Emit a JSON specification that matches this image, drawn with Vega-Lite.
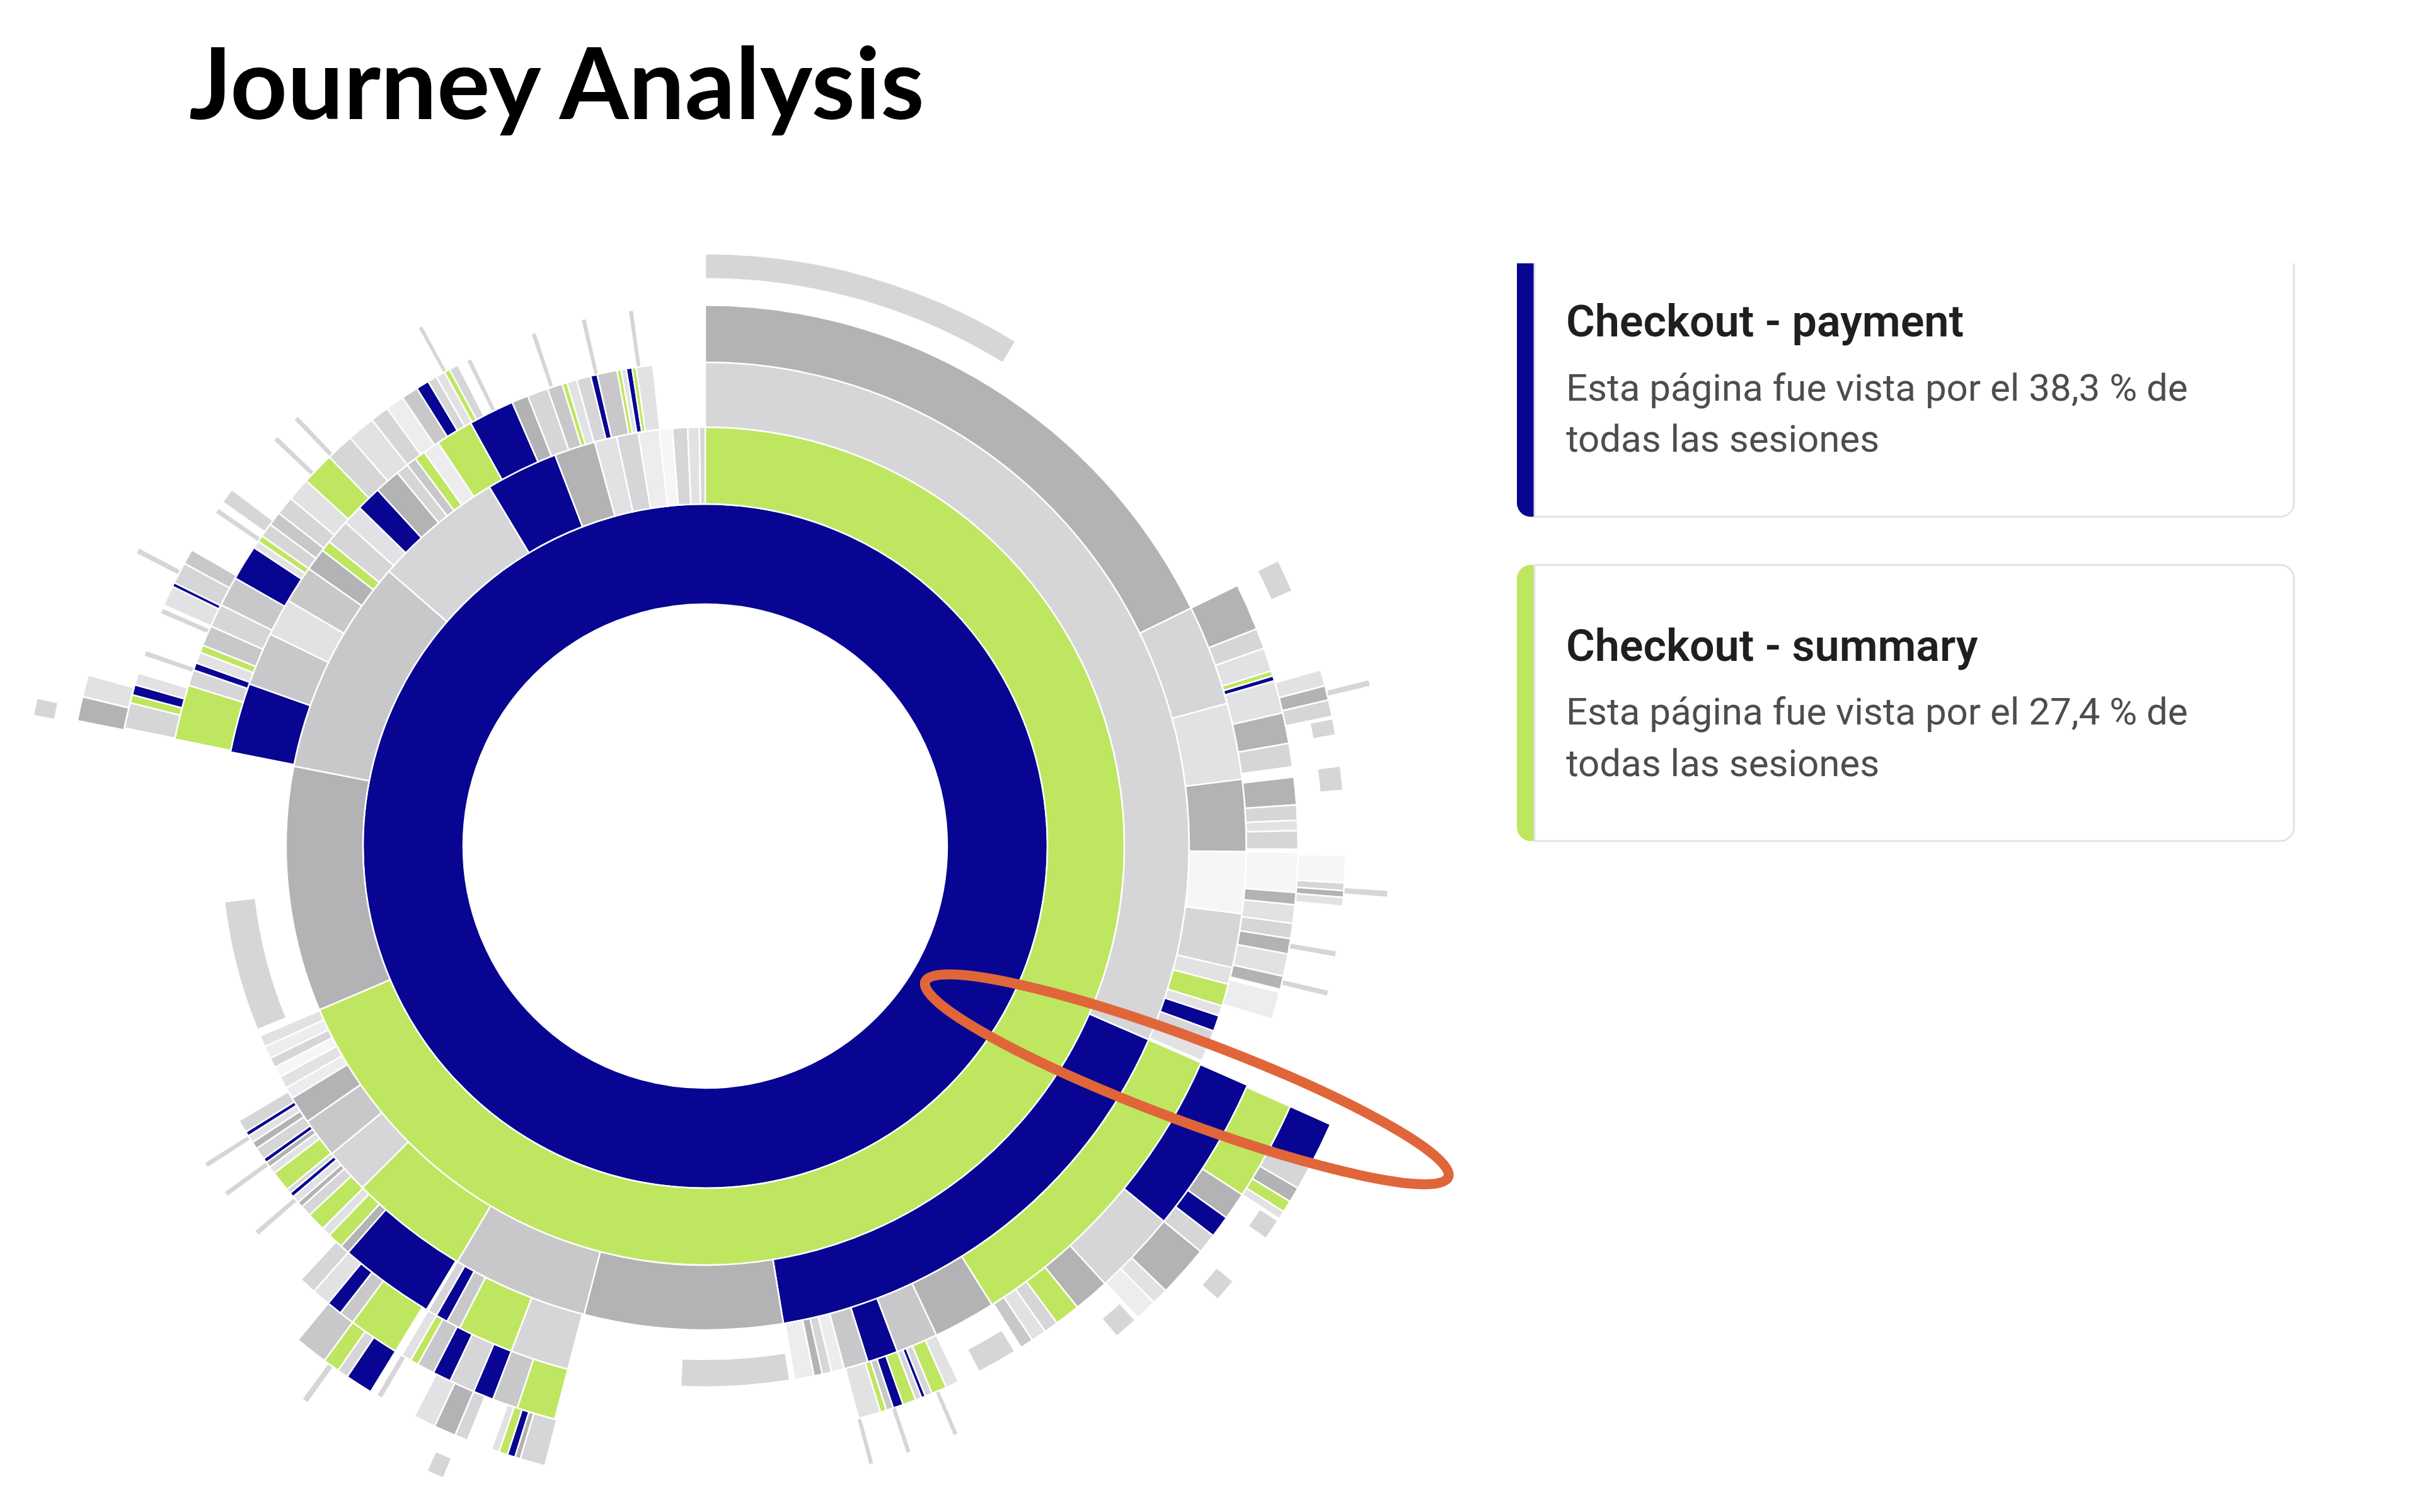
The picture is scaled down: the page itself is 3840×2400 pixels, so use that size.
{
  "$schema": "https://vega.github.io/schema/vega-lite/v6.json",
  "background": "#ffffff",
  "autosize": {"type": "pad"},
  "padding": {"left": 0, "top": 63, "right": 0, "bottom": 0},
  "title": {"text": "Journey Analysis", "anchor": "start", "frame": "group", "font": "Lato", "fontSize": 158, "fontWeight": "bold", "color": "#000000", "dx": 300, "offset": 50, "baseline": "alphabetic"},
  "config": {"view": {"stroke": null}},
  "bounds": "flush",
  "spacing": 169,
  "datasets": {
    "nodos": [
      {"p":"Checkout - payment","a0":0,"a1":360,"y0":1,"y1":2},

      {"p":"Checkout - summary","a0":0,"a1":247,"y0":2,"y1":3},
      {"p":"Otra 1","a0":247,"a1":281,"y0":2,"y1":3},
      {"p":"Otra 2","a0":281,"a1":311,"y0":2,"y1":3},
      {"p":"Otra 3","a0":311,"a1":329,"y0":2,"y1":3},
      {"p":"Checkout - payment","a0":329,"a1":339,"y0":2,"y1":3},
      {"p":"Otra 1","a0":339,"a1":344.7,"y0":2,"y1":3},
      {"p":"Otra 4","a0":344.7,"a1":347.8,"y0":2,"y1":3},
      {"p":"Otra 3","a0":347.8,"a1":350.8,"y0":2,"y1":3},
      {"p":"Otra 5","a0":350.8,"a1":353.7,"y0":2,"y1":3},
      {"p":"Otra 6","a0":353.7,"a1":355.5,"y0":2,"y1":3},
      {"p":"Otra 3","a0":355.5,"a1":357.6,"y0":2,"y1":3},
      {"p":"Otra 4","a0":357.6,"a1":359.2,"y0":2,"y1":3},
      {"p":"Otra 3","a0":359.2,"a1":360,"y0":2,"y1":3},

      {"p":"Otra 3","a0":0,"a1":113.6,"y0":3,"y1":4},
      {"p":"Checkout - payment","a0":113.6,"a1":170.7,"y0":3,"y1":4},
      {"p":"Otra 1","a0":170.7,"a1":194.5,"y0":3,"y1":4},
      {"p":"Otra 2","a0":194.5,"a1":210.8,"y0":3,"y1":4},
      {"p":"Checkout - summary","a0":210.8,"a1":225.1,"y0":3,"y1":4},
      {"p":"Otra 3","a0":225.1,"a1":230.5,"y0":3,"y1":4},
      {"p":"Otra 2","a0":230.5,"a1":235.3,"y0":3,"y1":4},
      {"p":"Otra 1","a0":235.3,"a1":238.6,"y0":3,"y1":4},
      {"p":"Otra 5","a0":238.6,"a1":240,"y0":3,"y1":4},
      {"p":"Otra 4","a0":240,"a1":241.5,"y0":3,"y1":4},
      {"p":"Otra 6","a0":241.5,"a1":242.8,"y0":3,"y1":4},
      {"p":"Otra 3","a0":242.8,"a1":244,"y0":3,"y1":4},
      {"p":"Otra 5","a0":244,"a1":245.5,"y0":3,"y1":4},
      {"p":"Otra 4","a0":245.5,"a1":246.9,"y0":3,"y1":4},
      {"p":"Otra 3","a0":247.7,"a1":263.4,"y0":3.5,"y1":4},
      {"p":"Checkout - payment","a0":281.2,"a1":289.6,"y0":3,"y1":4},
      {"p":"Otra 2","a0":289.6,"a1":296,"y0":3,"y1":4},
      {"p":"Otra 4","a0":296,"a1":300.5,"y0":3,"y1":4},
      {"p":"Otra 2","a0":300.5,"a1":305,"y0":3,"y1":4},
      {"p":"Otra 1","a0":305,"a1":307.7,"y0":3,"y1":4},
      {"p":"Checkout - summary","a0":307.7,"a1":309,"y0":3,"y1":4},
      {"p":"Otra 3","a0":309,"a1":312,"y0":3,"y1":4},
      {"p":"Otra 4","a0":312,"a1":314.4,"y0":3,"y1":4},
      {"p":"Checkout - payment","a0":314.4,"a1":317.4,"y0":3,"y1":4},
      {"p":"Otra 1","a0":317.4,"a1":320.5,"y0":3,"y1":4},
      {"p":"Otra 3","a0":320.5,"a1":322,"y0":3,"y1":4},
      {"p":"Otra 2","a0":322,"a1":323.2,"y0":3,"y1":4},
      {"p":"Checkout - summary","a0":323.2,"a1":324.5,"y0":3,"y1":4},
      {"p":"Otra 5","a0":324.5,"a1":326.5,"y0":3,"y1":4},
      {"p":"Checkout - summary","a0":326.5,"a1":331,"y0":3,"y1":4},
      {"p":"Checkout - payment","a0":331,"a1":336.5,"y0":3,"y1":4},
      {"p":"Otra 1","a0":336.5,"a1":338.5,"y0":3,"y1":4},
      {"p":"Otra 3","a0":338.5,"a1":341,"y0":3,"y1":4},
      {"p":"Otra 2","a0":341,"a1":342.8,"y0":3,"y1":4},
      {"p":"Checkout - summary","a0":342.8,"a1":343.4,"y0":3,"y1":4},
      {"p":"Otra 4","a0":343.4,"a1":344.6,"y0":3,"y1":4},
      {"p":"Otra 3","a0":344.6,"a1":346.3,"y0":3,"y1":4},
      {"p":"Checkout - payment","a0":346.3,"a1":347.1,"y0":3,"y1":4},
      {"p":"Otra 2","a0":347.1,"a1":349.5,"y0":3,"y1":4},
      {"p":"Checkout - summary","a0":349.5,"a1":350,"y0":3,"y1":4},
      {"p":"Otra 4","a0":350,"a1":350.6,"y0":3,"y1":4},
      {"p":"Checkout - payment","a0":350.6,"a1":351.3,"y0":3,"y1":4},
      {"p":"Checkout - summary","a0":351.3,"a1":351.8,"y0":3,"y1":4},
      {"p":"Otra 4","a0":351.8,"a1":353.8,"y0":3,"y1":4},

      {"p":"Otra 1","a0":0,"a1":63.9,"y0":4,"y1":5},
      {"p":"Otra 3","a0":63.9,"a1":74.7,"y0":4,"y1":5},
      {"p":"Otra 4","a0":74.7,"a1":82.9,"y0":4,"y1":5},
      {"p":"Otra 1","a0":82.9,"a1":90.6,"y0":4,"y1":5},
      {"p":"Otra 6","a0":90.6,"a1":97.2,"y0":4,"y1":5},
      {"p":"Otra 3","a0":97.2,"a1":103,"y0":4,"y1":5},
      {"p":"Otra 4","a0":103,"a1":104.8,"y0":4,"y1":5},
      {"p":"Checkout - summary","a0":104.8,"a1":107.2,"y0":4,"y1":5},
      {"p":"Otra 4","a0":107.2,"a1":108.3,"y0":4,"y1":5},
      {"p":"Checkout - payment","a0":108.3,"a1":110,"y0":4,"y1":5},
      {"p":"Otra 3","a0":110,"a1":111.6,"y0":4,"y1":5},
      {"p":"Otra 4","a0":111.6,"a1":113.4,"y0":4,"y1":5},
      {"p":"Checkout - summary","a0":113.6,"a1":148,"y0":4,"y1":5},
      {"p":"Otra 1","a0":148,"a1":154.7,"y0":4,"y1":5},
      {"p":"Otra 2","a0":154.7,"a1":159.2,"y0":4,"y1":5},
      {"p":"Checkout - payment","a0":159.2,"a1":162.5,"y0":4,"y1":5},
      {"p":"Otra 2","a0":162.5,"a1":165.1,"y0":4,"y1":5},
      {"p":"Otra 5","a0":165.1,"a1":166.5,"y0":4,"y1":5},
      {"p":"Otra 3","a0":166.5,"a1":167.5,"y0":4,"y1":5},
      {"p":"Otra 1","a0":167.5,"a1":168.4,"y0":4,"y1":5},
      {"p":"Otra 5","a0":168.4,"a1":170.5,"y0":4,"y1":5},
      {"p":"Otra 3","a0":171,"a1":182.6,"y0":4.5,"y1":5},
      {"p":"Otra 3","a0":194.7,"a1":201,"y0":4,"y1":5},
      {"p":"Checkout - summary","a0":201,"a1":207,"y0":4,"y1":5},
      {"p":"Otra 2","a0":207,"a1":208.5,"y0":4,"y1":5},
      {"p":"Checkout - payment","a0":208.5,"a1":209.8,"y0":4,"y1":5},
      {"p":"Otra 3","a0":209.8,"a1":210.8,"y0":4,"y1":5},
      {"p":"Checkout - payment","a0":211,"a1":221.3,"y0":4,"y1":5},
      {"p":"Otra 1","a0":221.3,"a1":222.3,"y0":4,"y1":5},
      {"p":"Checkout - summary","a0":222.3,"a1":224,"y0":4,"y1":5},
      {"p":"Otra 4","a0":224,"a1":225,"y0":4,"y1":5},
      {"p":"Checkout - summary","a0":225,"a1":227,"y0":4,"y1":5},
      {"p":"Otra 3","a0":227,"a1":228.2,"y0":4,"y1":5},
      {"p":"Otra 1","a0":228.2,"a1":228.8,"y0":4,"y1":5},
      {"p":"Otra 4","a0":228.8,"a1":229.6,"y0":4,"y1":5},
      {"p":"Checkout - payment","a0":229.6,"a1":230.1,"y0":4,"y1":5},
      {"p":"Otra 3","a0":230.1,"a1":230.6,"y0":4,"y1":5},
      {"p":"Checkout - summary","a0":230.6,"a1":232.8,"y0":4,"y1":5},
      {"p":"Otra 4","a0":232.8,"a1":233.6,"y0":4,"y1":5},
      {"p":"Otra 1","a0":233.6,"a1":234.2,"y0":4,"y1":5},
      {"p":"Checkout - payment","a0":234.2,"a1":234.7,"y0":4,"y1":5},
      {"p":"Otra 3","a0":234.7,"a1":236,"y0":4,"y1":5},
      {"p":"Otra 1","a0":236,"a1":236.8,"y0":4,"y1":5},
      {"p":"Otra 4","a0":236.8,"a1":237.6,"y0":4,"y1":5},
      {"p":"Checkout - payment","a0":237.6,"a1":238.1,"y0":4,"y1":5},
      {"p":"Otra 3","a0":238.1,"a1":239.5,"y0":4,"y1":5},
      {"p":"Checkout - summary","a0":281.4,"a1":287.3,"y0":4,"y1":5},
      {"p":"Otra 3","a0":287.3,"a1":289,"y0":4,"y1":5},
      {"p":"Checkout - payment","a0":289,"a1":289.8,"y0":4,"y1":5},
      {"p":"Otra 4","a0":289.8,"a1":291,"y0":4,"y1":5},
      {"p":"Checkout - summary","a0":291,"a1":291.8,"y0":4,"y1":5},
      {"p":"Otra 2","a0":291.8,"a1":294,"y0":4,"y1":5},
      {"p":"Otra 3","a0":294,"a1":296.5,"y0":4,"y1":5},
      {"p":"Otra 2","a0":296.5,"a1":299.7,"y0":4,"y1":5},
      {"p":"Checkout - payment","a0":299.7,"a1":303.5,"y0":4,"y1":5},
      {"p":"Otra 4","a0":303.5,"a1":304.3,"y0":4,"y1":5},
      {"p":"Checkout - summary","a0":304.3,"a1":305,"y0":4,"y1":5},
      {"p":"Otra 3","a0":305,"a1":306.5,"y0":4,"y1":5},
      {"p":"Otra 2","a0":306.5,"a1":308,"y0":4,"y1":5},
      {"p":"Otra 3","a0":308,"a1":310,"y0":4,"y1":5},
      {"p":"Otra 4","a0":310,"a1":312.5,"y0":4,"y1":5},
      {"p":"Checkout - summary","a0":312.5,"a1":316,"y0":4,"y1":5},
      {"p":"Otra 3","a0":316,"a1":319,"y0":4,"y1":5},
      {"p":"Otra 4","a0":319,"a1":322,"y0":4,"y1":5},
      {"p":"Otra 3","a0":322,"a1":324,"y0":4,"y1":5},
      {"p":"Otra 5","a0":324,"a1":326,"y0":4,"y1":5},
      {"p":"Otra 2","a0":326,"a1":327.8,"y0":4,"y1":5},
      {"p":"Checkout - payment","a0":327.8,"a1":329.2,"y0":4,"y1":5},
      {"p":"Otra 3","a0":329.2,"a1":330.2,"y0":4,"y1":5},
      {"p":"Otra 4","a0":330.2,"a1":331.2,"y0":4,"y1":5},
      {"p":"Checkout - summary","a0":331.2,"a1":331.8,"y0":4,"y1":5},
      {"p":"Otra 3","a0":331.8,"a1":332.8,"y0":4,"y1":5},
      {"p":"Otra 3","a0":333.8,"a1":334.4,"y0":4,"y1":5},
      {"p":"Otra 3","a0":341.2,"a1":341.8,"y0":4,"y1":5},
      {"p":"Otra 3","a0":346.7,"a1":347.3,"y0":4,"y1":5},
      {"p":"Otra 3","a0":351.8,"a1":352.4,"y0":4,"y1":5},

      {"p":"Otra 3","a0":0,"a1":31.6,"y0":5.5,"y1":6},
      {"p":"Otra 1","a0":63.9,"a1":68.5,"y0":5,"y1":6},
      {"p":"Otra 3","a0":68.5,"a1":70.5,"y0":5,"y1":6},
      {"p":"Otra 4","a0":70.5,"a1":72.8,"y0":5,"y1":6},
      {"p":"Checkout - summary","a0":72.8,"a1":73.3,"y0":5,"y1":6},
      {"p":"Checkout - payment","a0":73.3,"a1":73.8,"y0":5,"y1":6},
      {"p":"Otra 4","a0":73.8,"a1":77,"y0":5,"y1":6},
      {"p":"Otra 1","a0":77,"a1":80,"y0":5,"y1":6},
      {"p":"Otra 3","a0":80,"a1":82.3,"y0":5,"y1":6},
      {"p":"Otra 1","a0":83.3,"a1":86,"y0":5,"y1":6},
      {"p":"Otra 3","a0":86,"a1":87.5,"y0":5,"y1":6},
      {"p":"Otra 4","a0":87.5,"a1":88.5,"y0":5,"y1":6},
      {"p":"Otra 3","a0":88.5,"a1":90.3,"y0":5,"y1":6},
      {"p":"Otra 6","a0":90.6,"a1":94.5,"y0":5,"y1":6},
      {"p":"Otra 1","a0":94.5,"a1":95.7,"y0":5,"y1":6},
      {"p":"Otra 4","a0":95.7,"a1":97.5,"y0":5,"y1":6},
      {"p":"Otra 3","a0":97.5,"a1":99,"y0":5,"y1":6},
      {"p":"Otra 1","a0":99,"a1":100.5,"y0":5,"y1":6},
      {"p":"Otra 4","a0":100.5,"a1":102.7,"y0":5,"y1":6},
      {"p":"Otra 1","a0":102.7,"a1":104,"y0":5,"y1":6},
      {"p":"Otra 5","a0":104.3,"a1":107,"y0":5,"y1":6},
      {"p":"Checkout - payment","a0":113.8,"a1":129.3,"y0":5,"y1":6},
      {"p":"Otra 3","a0":129.3,"a1":137.6,"y0":5,"y1":6},
      {"p":"Otra 1","a0":137.6,"a1":141.1,"y0":5,"y1":6},
      {"p":"Checkout - summary","a0":141.1,"a1":143.6,"y0":5,"y1":6},
      {"p":"Otra 3","a0":143.6,"a1":145,"y0":5,"y1":6},
      {"p":"Otra 4","a0":145,"a1":146.5,"y0":5,"y1":6},
      {"p":"Otra 2","a0":146.5,"a1":147.8,"y0":5,"y1":6},
      {"p":"Otra 3","a0":148.5,"a1":152.5,"y0":5.5,"y1":6},
      {"p":"Otra 4","a0":154.7,"a1":156,"y0":5,"y1":6},
      {"p":"Checkout - summary","a0":156,"a1":157.5,"y0":5,"y1":6},
      {"p":"Otra 3","a0":157.5,"a1":158.2,"y0":5,"y1":6},
      {"p":"Checkout - payment","a0":158.2,"a1":158.6,"y0":5,"y1":6},
      {"p":"Otra 3","a0":158.6,"a1":159.2,"y0":5,"y1":6},
      {"p":"Checkout - summary","a0":159.2,"a1":160.5,"y0":5,"y1":6},
      {"p":"Checkout - payment","a0":160.5,"a1":161.5,"y0":5,"y1":6},
      {"p":"Otra 2","a0":161.5,"a1":162.2,"y0":5,"y1":6},
      {"p":"Checkout - summary","a0":162.2,"a1":162.8,"y0":5,"y1":6},
      {"p":"Otra 4","a0":162.8,"a1":165,"y0":5,"y1":6},
      {"p":"Checkout - summary","a0":194.7,"a1":198.5,"y0":5,"y1":6},
      {"p":"Otra 2","a0":198.5,"a1":201,"y0":5,"y1":6},
      {"p":"Checkout - payment","a0":201,"a1":203,"y0":5,"y1":6},
      {"p":"Otra 3","a0":203,"a1":205.5,"y0":5,"y1":6},
      {"p":"Checkout - payment","a0":205.5,"a1":207.3,"y0":5,"y1":6},
      {"p":"Otra 2","a0":207.3,"a1":209,"y0":5,"y1":6},
      {"p":"Checkout - summary","a0":209,"a1":209.8,"y0":5,"y1":6},
      {"p":"Otra 4","a0":209.8,"a1":210.8,"y0":5,"y1":6},
      {"p":"Checkout - summary","a0":211.5,"a1":216.5,"y0":5,"y1":6},
      {"p":"Otra 2","a0":216.5,"a1":218,"y0":5,"y1":6},
      {"p":"Checkout - payment","a0":218,"a1":219.5,"y0":5,"y1":6},
      {"p":"Otra 4","a0":219.5,"a1":221.3,"y0":5,"y1":6},
      {"p":"Otra 3","a0":221.3,"a1":223,"y0":5,"y1":6},
      {"p":"Otra 3","a0":228.9,"a1":229.5,"y0":5,"y1":6},
      {"p":"Otra 3","a0":233.7,"a1":234.3,"y0":5,"y1":6},
      {"p":"Otra 3","a0":237.1,"a1":237.7,"y0":5,"y1":6},
      {"p":"Otra 3","a0":281.5,"a1":284,"y0":5,"y1":6},
      {"p":"Checkout - summary","a0":284,"a1":284.8,"y0":5,"y1":6},
      {"p":"Checkout - payment","a0":284.8,"a1":285.8,"y0":5,"y1":6},
      {"p":"Otra 4","a0":285.8,"a1":287,"y0":5,"y1":6},
      {"p":"Otra 3","a0":288.7,"a1":289.3,"y0":5,"y1":6},
      {"p":"Otra 3","a0":293.1,"a1":293.7,"y0":5,"y1":6},
      {"p":"Otra 4","a0":294,"a1":296,"y0":5,"y1":6},
      {"p":"Checkout - payment","a0":296,"a1":296.4,"y0":5,"y1":6},
      {"p":"Otra 3","a0":296.4,"a1":298.5,"y0":5,"y1":6},
      {"p":"Otra 2","a0":298.5,"a1":300,"y0":5,"y1":6},
      {"p":"Otra 3","a0":304.2,"a1":304.8,"y0":5,"y1":6},
      {"p":"Otra 3","a0":305.5,"a1":307,"y0":5,"y1":6},
      {"p":"Otra 3","a0":313.2,"a1":313.8,"y0":5,"y1":6},
      {"p":"Otra 3","a0":316,"a1":316.6,"y0":5,"y1":6},
      {"p":"Otra 3","a0":331,"a1":331.5,"y0":5,"y1":6},

      {"p":"Otra 3","a0":63.5,"a1":66.5,"y0":6.5,"y1":7},
      {"p":"Otra 4","a0":74,"a1":75.5,"y0":6,"y1":7},
      {"p":"Otra 1","a0":75.5,"a1":76.8,"y0":6,"y1":7},
      {"p":"Otra 3","a0":76.8,"a1":78.3,"y0":6,"y1":7},
      {"p":"Otra 3","a0":78.5,"a1":80,"y0":6.5,"y1":7},
      {"p":"Otra 3","a0":82.8,"a1":85,"y0":6.5,"y1":7},
      {"p":"Otra 6","a0":90.8,"a1":93.3,"y0":6,"y1":7},
      {"p":"Otra 3","a0":93.3,"a1":94,"y0":6,"y1":7},
      {"p":"Otra 1","a0":94,"a1":94.6,"y0":6,"y1":7},
      {"p":"Otra 4","a0":94.6,"a1":95.4,"y0":6,"y1":7},
      {"p":"Otra 3","a0":99.4,"a1":100,"y0":6,"y1":7},
      {"p":"Otra 3","a0":103,"a1":103.6,"y0":6,"y1":7},
      {"p":"Checkout - summary","a0":114,"a1":123,"y0":6,"y1":7},
      {"p":"Otra 1","a0":123,"a1":125.5,"y0":6,"y1":7},
      {"p":"Checkout - payment","a0":125.5,"a1":127.5,"y0":6,"y1":7},
      {"p":"Otra 3","a0":127.5,"a1":129.3,"y0":6,"y1":7},
      {"p":"Otra 1","a0":129.3,"a1":134,"y0":6,"y1":7},
      {"p":"Otra 4","a0":134,"a1":135.5,"y0":6,"y1":7},
      {"p":"Otra 5","a0":135.5,"a1":137.5,"y0":6,"y1":7},
      {"p":"Otra 3","a0":137.8,"a1":140,"y0":6.5,"y1":7},
      {"p":"Otra 3","a0":156.7,"a1":157.2,"y0":6,"y1":7},
      {"p":"Otra 3","a0":161.2,"a1":161.7,"y0":6,"y1":7},
      {"p":"Otra 3","a0":164.7,"a1":165.2,"y0":6,"y1":7},
      {"p":"Otra 3","a0":194.5,"a1":196.8,"y0":6,"y1":7},
      {"p":"Otra 1","a0":196.8,"a1":197.3,"y0":6,"y1":7},
      {"p":"Checkout - payment","a0":197.3,"a1":198,"y0":6,"y1":7},
      {"p":"Checkout - summary","a0":198,"a1":198.8,"y0":6,"y1":7},
      {"p":"Otra 4","a0":198.8,"a1":199.5,"y0":6,"y1":7},
      {"p":"Otra 3","a0":201.8,"a1":203,"y0":6,"y1":7},
      {"p":"Otra 1","a0":203,"a1":205,"y0":6,"y1":7},
      {"p":"Otra 4","a0":205,"a1":207,"y0":6,"y1":7},
      {"p":"Otra 3","a0":210.3,"a1":210.9,"y0":6,"y1":7},
      {"p":"Checkout - payment","a0":211.5,"a1":214,"y0":6,"y1":7},
      {"p":"Otra 3","a0":214,"a1":215,"y0":6,"y1":7},
      {"p":"Checkout - summary","a0":215,"a1":216.5,"y0":6,"y1":7},
      {"p":"Otra 2","a0":216.5,"a1":219.5,"y0":6,"y1":7},
      {"p":"Otra 1","a0":281.3,"a1":283.5,"y0":6,"y1":7},
      {"p":"Otra 4","a0":283.5,"a1":285.5,"y0":6,"y1":7},
      {"p":"Otra 3","a0":297.2,"a1":297.8,"y0":6,"y1":7},

      {"p":"Otra 3","a0":75.9,"a1":76.5,"y0":7,"y1":8},
      {"p":"Otra 3","a0":93.7,"a1":94.3,"y0":7,"y1":8},
      {"p":"Checkout - payment","a0":114,"a1":118,"y0":7,"y1":8},
      {"p":"Otra 3","a0":118,"a1":120,"y0":7,"y1":8},
      {"p":"Otra 1","a0":120,"a1":121.3,"y0":7,"y1":8},
      {"p":"Checkout - summary","a0":121.3,"a1":122.3,"y0":7,"y1":8},
      {"p":"Otra 4","a0":122.3,"a1":123,"y0":7,"y1":8},
      {"p":"Otra 3","a0":123.2,"a1":125,"y0":7.5,"y1":8},
      {"p":"Otra 3","a0":129.5,"a1":131.5,"y0":7.5,"y1":8},
      {"p":"Otra 3","a0":202.5,"a1":204,"y0":7.5,"y1":8},
      {"p":"Otra 3","a0":215.5,"a1":216.1,"y0":7,"y1":8},
      {"p":"Otra 3","a0":281,"a1":282.5,"y0":7.5,"y1":8}
    ]
  },
  "hconcat": [
    {
      "width": 2238,
      "height": 1850,
      "layer": [
        {
          "data": {"name": "nodos"},
          "mark": {"type": "arc", "stroke": "#ffffff", "strokeWidth": 2.5},
          "encoding": {
            "theta": {"field": "a0", "type": "quantitative", "stack": null, "scale": {"domain": [0, 360], "zero": true, "nice": false}},
            "theta2": {"field": "a1"},
            "radius": {"field": "y0", "type": "quantitative", "scale": {"type": "sqrt", "domain": [0, 9], "range": [0, 1152], "zero": true, "nice": false}},
            "radius2": {"field": "y1"},
            "color": {
              "field": "p", "type": "nominal", "legend": null,
              "scale": {
                "domain": ["Checkout - payment", "Checkout - summary", "Otra 1", "Otra 2", "Otra 3", "Otra 4", "Otra 5", "Otra 6"],
                "range": ["#080592", "#BFE660", "#B3B2B5", "#C8C7CA", "#D6D5D8", "#E2E1E4", "#EDECEF", "#F6F5F8"]
              }
            }
          }
        },
        {
          "data": {"values": [{"nota": "Recorrido payment / summary", "cx": 1.99, "cy": -0.964}]},
          "mark": {"type": "point", "shape": "M -1 0 A 1 0.147 0 1 1 1 0 A 1 0.147 0 1 1 -1 0 Z", "size": 785000, "filled": false, "stroke": "#E0663A", "strokeWidth": 16, "angle": 20.5, "opacity": 1},
          "encoding": {
            "x": {"field": "cx", "type": "quantitative", "axis": null, "scale": {"domain": [-2.914, 2.914], "nice": false, "zero": false}},
            "y": {"field": "cy", "type": "quantitative", "axis": null, "scale": {"domain": [-2.409, 2.409], "nice": false, "zero": false}}
          }
        }
      ]
    },
    {
      "width": 1235,
      "height": 919,
      "data": {"values": [
        {"pagina": "Checkout - payment", "linea1": "Esta página fue vista por el 38,3 % de", "linea2": "todas las sesiones"},
        {"pagina": "Checkout - summary", "linea1": "Esta página fue vista por el 27,4 % de", "linea2": "todas las sesiones"}
      ]},
      "encoding": {
        "y": {"field": "pagina", "type": "nominal", "axis": null, "scale": {"domain": ["Checkout - payment", "Checkout - summary"], "range": [-36, 917], "paddingInner": 0.149, "paddingOuter": 0}}
      },
      "layer": [
        {
          "mark": {"type": "rect", "cornerRadius": 22, "clip": true, "x2Offset": -2},
          "encoding": {
            "x": {"value": 0}, "x2": {"value": "width"},
            "color": {
              "field": "pagina", "type": "nominal", "legend": null,
              "scale": {
                "domain": ["Checkout - payment", "Checkout - summary", "Otra 1", "Otra 2", "Otra 3", "Otra 4", "Otra 5", "Otra 6"],
                "range": ["#080592", "#BFE660", "#B3B2B5", "#C8C7CA", "#D6D5D8", "#E2E1E4", "#EDECEF", "#F6F5F8"]
              }
            }
          }
        },
        {
          "mark": {"type": "rect", "fill": "#ffffff", "stroke": "#E4E2E8", "strokeWidth": 3, "cornerRadiusTopRight": 22, "cornerRadiusBottomRight": 22, "clip": true, "x2Offset": -2},
          "encoding": {"x": {"value": 28}, "x2": {"value": "width"}}
        },
        {
          "mark": {"type": "text", "font": "Roboto", "fontSize": 70, "fontWeight": 600, "color": "#1F1F1F", "align": "left", "baseline": "alphabetic", "dy": -67},
          "encoding": {"text": {"field": "pagina"}, "x": {"value": 78}}
        },
        {
          "mark": {"type": "text", "font": "Roboto", "fontSize": 60, "color": "#4D4D4D", "align": "left", "baseline": "alphabetic", "dy": 34.5},
          "encoding": {"text": {"field": "linea1"}, "x": {"value": 78}}
        },
        {
          "mark": {"type": "text", "font": "Roboto", "fontSize": 60, "color": "#4D4D4D", "align": "left", "baseline": "alphabetic", "dy": 116},
          "encoding": {"text": {"field": "linea2"}, "x": {"value": 78}}
        }
      ]
    }
  ]
}
